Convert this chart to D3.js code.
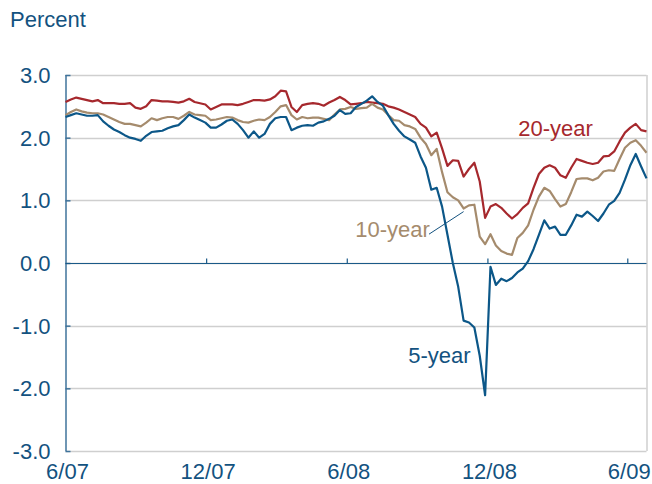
<!DOCTYPE html>
<html>
<head>
<meta charset="utf-8">
<script src="https://cdn.jsdelivr.net/npm/d3@7"></script>
<style>
  body { margin: 0; background: #fff; }
  text { font-family: "Liberation Sans", Arial, sans-serif; }
</style>
</head>
<body>
<div id="chart"></div>
<script>
// weekly readings, first week of June 2007 through late June 2009
var startDate = new Date(2007, 5, 1);
var endDate = new Date(2009, 5, 26);

var yr20 = [2.57, 2.61, 2.64, 2.62, 2.60, 2.58, 2.60, 2.55, 2.55, 2.55,
  2.54, 2.54, 2.55, 2.48, 2.46, 2.50, 2.60, 2.59, 2.58, 2.58,
  2.57, 2.56, 2.58, 2.62, 2.57, 2.55, 2.53, 2.45, 2.49, 2.53,
  2.53, 2.53, 2.52, 2.54, 2.57, 2.60, 2.60, 2.59, 2.61, 2.66,
  2.75, 2.74, 2.49, 2.41, 2.52, 2.54, 2.55, 2.54, 2.51, 2.56,
  2.60, 2.65, 2.60, 2.53, 2.54, 2.55, 2.57, 2.56, 2.55, 2.54,
  2.50, 2.48, 2.45, 2.41, 2.37, 2.33, 2.22, 2.16, 2.02, 2.08,
  1.83, 1.55, 1.64, 1.63, 1.38, 1.50, 1.60, 1.30, 0.72, 0.90,
  0.94, 0.88, 0.79, 0.71, 0.78, 0.88, 0.95, 1.20, 1.42, 1.52,
  1.56, 1.52, 1.40, 1.36, 1.52, 1.66, 1.63, 1.60, 1.58, 1.60,
  1.70, 1.71, 1.78, 1.94, 2.08, 2.16, 2.22, 2.12, 2.10];

var yr10 = [2.36, 2.41, 2.45, 2.42, 2.40, 2.39, 2.39, 2.37, 2.33, 2.29,
  2.25, 2.22, 2.22, 2.20, 2.18, 2.24, 2.31, 2.28, 2.31, 2.33,
  2.33, 2.30, 2.35, 2.41, 2.37, 2.36, 2.35, 2.28, 2.29, 2.31,
  2.33, 2.32, 2.28, 2.25, 2.24, 2.27, 2.29, 2.28, 2.33, 2.41,
  2.50, 2.52, 2.36, 2.29, 2.33, 2.31, 2.32, 2.32, 2.30, 2.28,
  2.37, 2.45, 2.46, 2.49, 2.46, 2.47, 2.48, 2.54, 2.48, 2.45,
  2.36, 2.28, 2.27, 2.20, 2.18, 2.14, 2.00, 1.90, 1.72, 1.82,
  1.45, 1.13, 1.05, 1.00, 0.87, 0.92, 0.93, 0.42, 0.30, 0.46,
  0.28, 0.19, 0.15, 0.13, 0.40, 0.48, 0.60, 0.85, 1.06, 1.20,
  1.15, 1.02, 0.90, 0.94, 1.13, 1.34, 1.35, 1.35, 1.32, 1.36,
  1.46, 1.48, 1.47, 1.66, 1.84, 1.92, 1.96, 1.87, 1.76];

var yr5 = [2.33, 2.36, 2.39, 2.37, 2.35, 2.35, 2.36, 2.26, 2.19, 2.13,
  2.09, 2.04, 2.00, 1.98, 1.95, 2.03, 2.09, 2.10, 2.11, 2.15,
  2.18, 2.20, 2.28, 2.37, 2.32, 2.28, 2.24, 2.16, 2.16, 2.21,
  2.27, 2.29, 2.22, 2.12, 2.00, 2.10, 2.00, 2.06, 2.22, 2.31,
  2.33, 2.33, 2.12, 2.16, 2.19, 2.20, 2.19, 2.24, 2.26, 2.30,
  2.35, 2.44, 2.38, 2.39, 2.49, 2.54, 2.59, 2.66, 2.57, 2.51,
  2.36, 2.22, 2.11, 2.02, 1.97, 1.92, 1.70, 1.52, 1.17, 1.20,
  0.90, 0.45, 0.00, -0.38, -0.92, -0.95, -1.03, -1.48, -2.11, -0.06,
  -0.35, -0.25, -0.29, -0.24, -0.15, -0.09, 0.03, 0.22, 0.45, 0.68,
  0.55, 0.58, 0.45, 0.45, 0.60, 0.77, 0.74, 0.82, 0.75, 0.67,
  0.79, 0.93, 0.99, 1.12, 1.33, 1.56, 1.74, 1.54, 1.35];

var yTicks = [-3, -2, -1, 0, 1, 2, 3];
var xTicks = [new Date(2007, 5, 1), new Date(2007, 11, 1), new Date(2008, 5, 1),
  new Date(2008, 11, 1), new Date(2009, 5, 1)];

var series = [
  { name: "20-year", values: yr20, color: "#a6282d" },
  { name: "10-year", values: yr10, color: "#a58b6d" },
  { name: "5-year", values: yr5, color: "#0c5788" }
];

var textBlue = "#13527f";
var gridColor = "#cfcfcf";

var margin = { top: 75, right: 5, bottom: 33, left: 65.5 },
  width = 652 - margin.left - margin.right,
  height = 484 - margin.top - margin.bottom;

var svg = d3.select("#chart")
  .append("svg")
  .attr("width", 652)
  .attr("height", 484);

svg.append("text")
  .attr("x", 10)
  .attr("y", 27)
  .attr("fill", textBlue)
  .style("font-size", "22px")
  .text("Percent");

var g = svg.append("g")
  .attr("transform", "translate(" + margin.left + "," + margin.top + ")");

var x = d3.scaleTime().domain([startDate, endDate]).range([0, 581]);
var y = d3.scaleLinear().domain([-3, 3]).range([height, 0]);

function dateAt(i) { return d3.timeDay.offset(startDate, 7 * i); }

// grid lines
g.selectAll(".grid")
  .data(yTicks)
  .enter()
  .append("line")
  .attr("x1", 0)
  .attr("x2", 581)
  .attr("y1", function (d) { return Math.round(y(d)) + 0.5; })
  .attr("y2", function (d) { return Math.round(y(d)) + 0.5; })
  .attr("stroke", gridColor)
  .attr("stroke-width", 1.5);

// right border
g.append("line")
  .attr("x1", 581.5).attr("x2", 581.5)
  .attr("y1", y(3)).attr("y2", y(-3))
  .attr("stroke", gridColor)
  .attr("stroke-width", 1.5);

// left axis
var yAxis = d3.axisRight(y)
  .tickValues(yTicks)
  .tickSize(5)
  .tickFormat("");
var ya = g.append("g").call(yAxis);
ya.selectAll("line, path").attr("stroke", "#3f739b").attr("stroke-width", 1.5);
ya.select(".domain").attr("d", "M0.5," + y(3) + "V" + y(-3));

g.selectAll(".ylab")
  .data(yTicks)
  .enter()
  .append("text")
  .attr("x", -15)
  .attr("y", function (d) { return y(d); })
  .attr("dy", "0.36em")
  .attr("text-anchor", "end")
  .attr("fill", textBlue)
  .style("font-size", "22px")
  .text(function (d) { return d3.format(".1f")(d).replace("\u2212", "-"); });

// zero line with small date ticks
var zeroY = Math.round(y(0)) + 0.5;
var xa = g.append("g")
  .attr("transform", "translate(0," + zeroY + ")")
  .call(d3.axisTop(x).tickValues(xTicks.slice(1)).tickSize(5).tickSizeOuter(0).tickFormat(""));
xa.select(".domain").attr("d", "M0,0H581");
xa.selectAll("line, path").attr("stroke", "#1a5a88").attr("stroke-width", 1.2);

g.selectAll(".xlab")
  .data(xTicks)
  .enter()
  .append("text")
  .attr("x", function (d) { return x(d) + 2; })
  .attr("y", height + 28)
  .attr("text-anchor", "middle")
  .attr("fill", textBlue)
  .style("font-size", "22px")
  .text(function (d) { return d3.timeFormat("%-m/%y")(d); });

// series lines
var line = d3.line()
  .x(function (d, i) { return x(dateAt(i)); })
  .y(function (d) { return y(d); });

g.selectAll(".series")
  .data(series)
  .enter()
  .append("path")
  .attr("d", function (d) { return line(d.values); })
  .attr("fill", "none")
  .attr("stroke", function (d) { return d.color; })
  .attr("stroke-width", 2.2)
  .attr("stroke-linejoin", "round");

// labels
g.append("text")
  .attr("x", x(new Date(2009, 0, 10)))
  .attr("y", y(2.02))
  .attr("fill", "#a6282d")
  .style("font-size", "22px")
  .text("20-year");

g.append("text")
  .attr("x", x(new Date(2008, 5, 12)))
  .attr("y", y(0.41))
  .attr("fill", "#a58b6d")
  .style("font-size", "22px")
  .text("10-year");

g.append("line")
  .attr("x1", x(new Date(2008, 8, 16)))
  .attr("y1", y(0.46))
  .attr("x2", x(new Date(2008, 9, 31)))
  .attr("y2", y(0.82))
  .attr("stroke", textBlue)
  .attr("stroke-width", 1);

g.append("text")
  .attr("x", x(new Date(2008, 7, 20)))
  .attr("y", y(-1.59))
  .attr("fill", textBlue)
  .style("font-size", "22px")
  .text("5-year");
</script>
</body>
</html>
